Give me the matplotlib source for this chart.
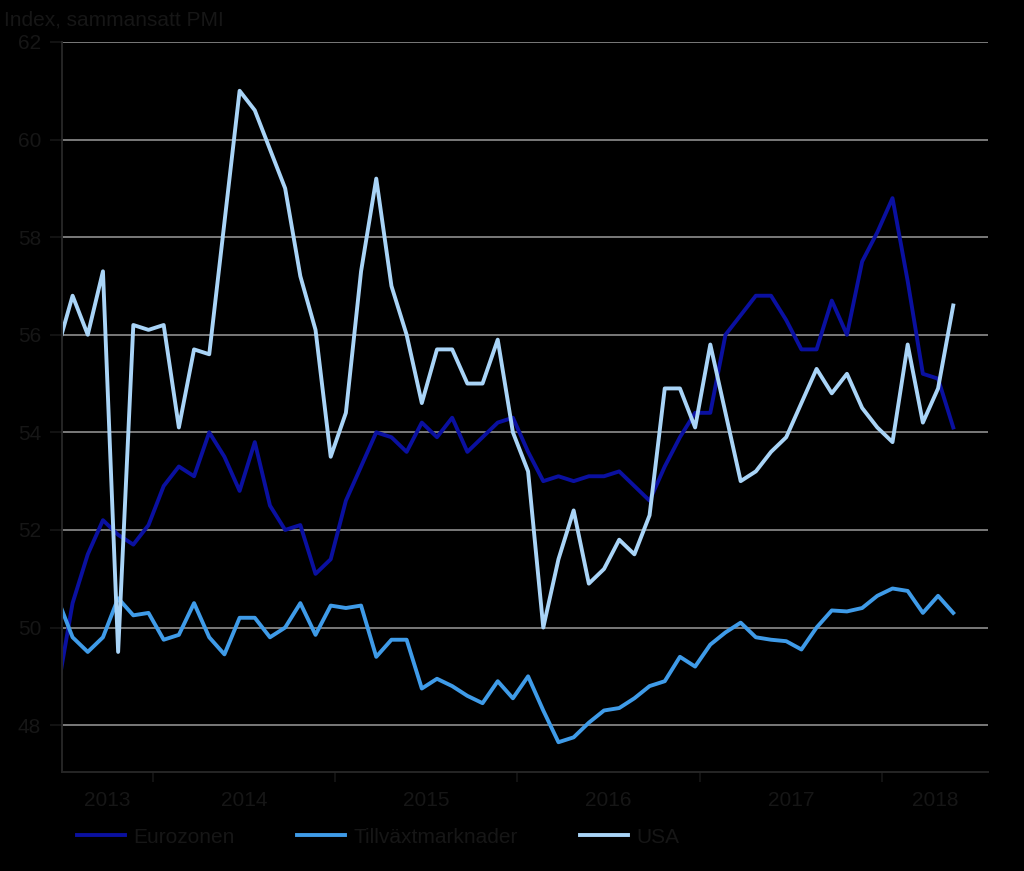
import matplotlib.pyplot as plt
import numpy as np

# monthly composite PMI, Jun 2013 - May 2018
eurozonen = [48.7, 50.5, 51.5, 52.2, 51.9, 51.7, 52.1, 52.9, 53.3, 53.1,
             54.0, 53.5, 52.8, 53.8, 52.5, 52.0, 52.1, 51.1, 51.4, 52.6,
             53.3, 54.0, 53.9, 53.6, 54.2, 53.9, 54.3, 53.6, 53.9, 54.2,
             54.3, 53.6, 53.0, 53.1, 53.0, 53.1, 53.1, 53.2, 52.9, 52.6,
             53.3, 53.9, 54.4, 54.4, 56.0, 56.4, 56.8, 56.8, 56.3, 55.7,
             55.7, 56.7, 56.0, 57.5, 58.1, 58.8, 57.1, 55.2, 55.1, 54.1]
tillvaxt = [50.6, 49.8, 49.5, 49.8, 50.6, 50.25, 50.3, 49.75, 49.85, 50.5,
            49.8, 49.45, 50.2, 50.2, 49.8, 50.0, 50.5, 49.85, 50.45, 50.4,
            50.45, 49.4, 49.75, 49.75, 48.75, 48.95, 48.8, 48.6, 48.45, 48.9,
            48.55, 49.0, 48.3, 47.65, 47.75, 48.05, 48.3, 48.35, 48.55, 48.8,
            48.9, 49.4, 49.2, 49.65, 49.9, 50.1, 49.8, 49.75, 49.72, 49.55,
            50.0, 50.35, 50.33, 50.4, 50.65, 50.8, 50.75, 50.3, 50.65, 50.3]
usa = [55.7, 56.8, 56.0, 57.3, 49.5, 56.2, 56.1, 56.2, 54.1, 55.7,
       55.6, 58.3, 61.0, 60.6, 59.8, 59.0, 57.2, 56.1, 53.5, 54.4,
       57.3, 59.2, 57.0, 56.0, 54.6, 55.7, 55.7, 55.0, 55.0, 55.9,
       54.0, 53.2, 50.0, 51.4, 52.4, 50.9, 51.2, 51.8, 51.5, 52.3,
       54.9, 54.9, 54.1, 55.8, 54.4, 53.0, 53.2, 53.6, 53.9, 54.6,
       55.3, 54.8, 55.2, 54.5, 54.1, 53.8, 55.8, 54.2, 54.9, 56.6]
years = ['2013', '2014', '2015', '2016', '2017', '2018']

txt = '#161616'
plt.rcParams['font.family'] = ['Liberation Sans', 'DejaVu Sans']
plt.rcParams['font.size'] = 15

fig = plt.figure(figsize=(10.24, 8.71), dpi=100, facecolor='black')
ax = fig.add_axes([0.0605, 0.1137, 0.9045, 0.8381], facecolor='black')

months = np.arange(len(eurozonen))
ax.plot(months, eurozonen, color='#0a10a0', lw=2.8, label='Eurozonen')
ax.plot(months, tillvaxt, color='#3f9be8', lw=2.8, label='Tillväxtmarknader')
ax.plot(months, usa, color='#a9d4f7', lw=2.8, label='USA')

ax.set_xlim(0.3, 61.3)
ax.set_ylim(47.04, 62)
ax.set_yticks(np.arange(48, 63, 2))
ax.yaxis.grid(True, color='#7a7a7a', lw=1.4)
ax.set_axisbelow(True)

# year boundaries as major ticks, year names centred between them
bounds = [0.3 + 6 + 12 * i for i in range(5)]
ax.set_xticks(bounds)
ax.set_xticklabels([])
edges = [0.3] + bounds + [61.3]
ax.set_xticks([(a + b) / 2 for a, b in zip(edges[:-1], edges[1:])], minor=True)
ax.set_xticklabels(years, minor=True)
ax.tick_params(axis='x', which='major', length=7, width=1.2, color=txt, direction='out')
ax.tick_params(axis='x', which='minor', length=0, pad=14, labelcolor=txt)
ax.tick_params(axis='y', length=9, width=1.2, color=txt, pad=6, labelcolor=txt)

for s in ['top', 'right']:
    ax.spines[s].set_visible(False)
for s in ['left', 'bottom']:
    ax.spines[s].set_color('#262626')
    ax.spines[s].set_linewidth(1.4)

fig.text(0.004, 0.988, 'Index, sammansatt PMI', color=txt, ha='left', va='top')
fig.legend(loc='center left', bbox_to_anchor=(0.057, 0.039), ncol=3, frameon=False,
           handlelength=2.3, handletextpad=0.4, columnspacing=3.0, labelcolor=txt)

fig.savefig('out.png', dpi=100, facecolor='black')
